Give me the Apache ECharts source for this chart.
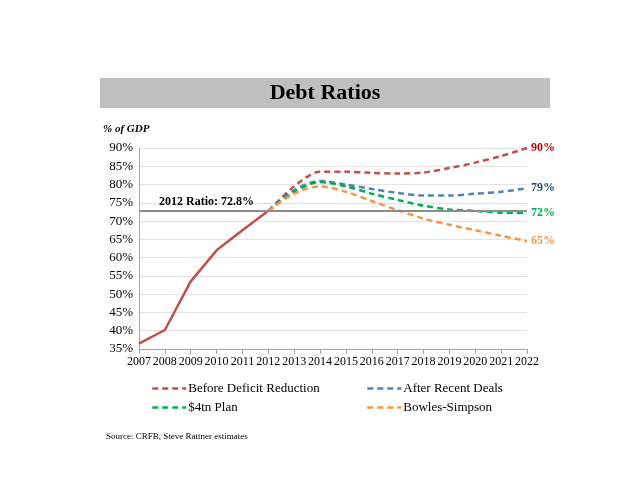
<!DOCTYPE html>
<html>
<head>
<meta charset="utf-8">
<script src="https://cdn.jsdelivr.net/npm/echarts@6/dist/echarts.min.js"></script>
<style>
  html, body { margin: 0; padding: 0; background: #fff; }
  #chart { width: 638px; height: 493px; }
</style>
</head>
<body>
<div id="chart"></div>
<script>
const years = ['2007','2008','2009','2010','2011','2012','2013','2014','2015','2016','2017','2018','2019','2020','2021','2022'];
const history = [36.5, 40.2, 53.5, 62.0, 67.5, 72.8];
const beforeDeficit = [72.8, 79.5, 83.5, 83.5, 83.2, 83.0, 83.3, 84.5, 86.0, 87.8, 90.0];
const afterDeals = [72.8, 78.5, 81.0, 80.0, 78.8, 77.7, 77.0, 77.0, 77.5, 78.0, 79.0];
const plan4tn = [72.8, 78.0, 80.7, 79.5, 77.5, 75.8, 74.2, 73.2, 72.8, 72.3, 72.2];
const bowles = [72.8, 77.5, 79.5, 78.0, 75.5, 73.0, 70.7, 69.0, 67.5, 66.0, 64.5];
const endLabels = ['90%', '79%', '72%', '65%'];
const ratio2012 = 72.8;

const serif = '"Liberation Serif", "DejaVu Serif", serif';
const pad = arr => Array(5).fill(null).concat(arr);

const chart = echarts.init(document.getElementById('chart'), null, {renderer: 'canvas'});

function dashed(name, data, color, labelColor, label) {
    return {
        name: name,
        type: 'line',
        data: pad(data),
        symbol: 'none',
        smooth: 0.3,
        lineStyle: {color: color, width: 2.5, type: [6, 4]},
        itemStyle: {color: color},
        endLabel: {
            show: true,
            formatter: () => label,
            color: labelColor,
            fontFamily: serif,
            fontWeight: 'bold',
            fontSize: 12,
            distance: 4,
        },
        z: 3,
    };
}

const legendBase = {
    orient: 'vertical', top: 377, itemGap: 6,
    itemWidth: 34, itemHeight: 12,
    itemStyle: {opacity: 0},
    lineStyle: {width: 2.5},
    textStyle: {fontFamily: serif, fontSize: 13, color: '#000', padding: [0, 0, 0, -3]},
};

chart.setOption({
    animation: false,
    textStyle: {fontFamily: serif},
    graphic: [
        {type: 'rect', shape: {x: 100, y: 78, width: 450, height: 30}, style: {fill: '#BFBFBF'}},
        {type: 'text', x: 325, y: 93, style: {text: 'Debt Ratios', font: 'bold 22px ' + serif, fill: '#000', align: 'center', verticalAlign: 'middle'}},
        {type: 'text', x: 103, y: 129, style: {text: '% of GDP', font: 'italic bold 11px ' + serif, fill: '#000', verticalAlign: 'middle'}},
        {type: 'text', x: 106, y: 437, style: {text: 'Source: CRFB, Steve Rattner estimates', font: '9px ' + serif, fill: '#000', verticalAlign: 'middle'}},
    ],
    grid: {left: 139, right: 111, top: 148, bottom: 144},
    legend: [
        Object.assign({data: ['Before Deficit Reduction', '$4tn Plan'], left: 146}, legendBase),
        Object.assign({data: ['After Recent Deals', 'Bowles-Simpson'], left: 361}, legendBase),
    ],
    xAxis: {
        type: 'category',
        data: years,
        boundaryGap: false,
        axisLine: {lineStyle: {color: '#A6A6A6'}},
        axisTick: {lineStyle: {color: '#A6A6A6'}, length: 5},
        axisLabel: {color: '#000', fontFamily: serif, fontSize: 12, margin: 7, interval: 0},
        splitLine: {show: false},
    },
    yAxis: {
        type: 'value',
        min: 35, max: 90, interval: 5,
        axisLine: {show: true, lineStyle: {color: '#A6A6A6'}},
        axisTick: {show: false},
        axisLabel: {color: '#000', fontFamily: serif, fontSize: 13, formatter: '{value}%', margin: 6},
        splitLine: {lineStyle: {color: '#E3E3E3'}},
    },
    series: [
        {
            name: 'History',
            type: 'line',
            data: history,
            symbol: 'none',
            lineStyle: {color: '#C0504D', width: 2.5},
            z: 4,
            markLine: {
                silent: true,
                symbol: 'none',
                lineStyle: {color: '#8C8C8C', width: 2, type: 'solid'},
                label: {
                    position: 'insideStartTop',
                    formatter: '2012 Ratio: 72.8%',
                    color: '#000',
                    fontFamily: serif,
                    fontWeight: 'bold',
                    fontSize: 12,
                    distance: [20, 3],
                },
                data: [{yAxis: ratio2012}],
            },
        },
        dashed('Before Deficit Reduction', beforeDeficit, '#C0504D', '#C00000', endLabels[0]),
        dashed('After Recent Deals', afterDeals, '#4F81BD', '#1F497D', endLabels[1]),
        dashed('$4tn Plan', plan4tn, '#00B050', '#00B050', endLabels[2]),
        dashed('Bowles-Simpson', bowles, '#F79646', '#F79646', endLabels[3]),
    ],
});
</script>
</body>
</html>
